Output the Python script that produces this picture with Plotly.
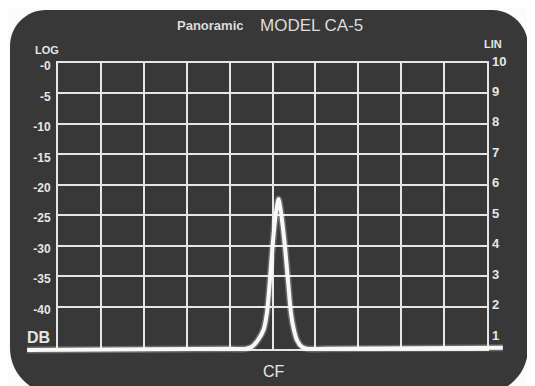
import plotly.graph_objects as go

# ---------------- data ----------------
# horizontal divisions of the screen (10 columns)
x_divisions = [0, 1, 2, 3, 4, 5, 6, 7, 8, 9, 10]
# left "LOG" scale labels and the LIN-scale level they sit on
log_labels = ["-0", "-5", "-10", "-15", "-20", "-25", "-30", "-35", "-40"]
log_levels = [10, 9, 8, 7, 6, 5, 4, 3, 2]
# right "LIN" scale
lin_labels = ["10", "9", "8", "7", "6", "5", "4", "3", "2", "1"]
lin_levels = [10, 9, 8, 7, 6, 5, 4, 3, 2, 1]
# displayed trace (x in divisions, y in LIN units)
trace_x = [-0.72, 4.00, 4.36, 4.52, 4.66, 4.79, 4.87, 4.94, 5.00, 5.08, 5.14,
           5.20, 5.29, 5.36, 5.43, 5.50, 5.57, 5.68, 5.83, 6.20, 10.37]
trace_y = [0.57, 0.61, 0.61, 0.68, 0.90, 1.23, 1.79, 2.87, 3.97, 5.07, 5.53,
           5.07, 3.97, 2.87, 1.79, 1.23, 0.90, 0.68, 0.61, 0.61, 0.65]

# ---------------- layout geometry (page pixels) ----------------
W, H = 535, 386
OFF = 8                     # page margin around the figure div
GX0, GX1 = 58, 487          # left / right edge of graticule
PY10, PY1 = 63, 337         # pixel rows of LIN 10 and LIN 1
PYBOT = 349                 # bottom of graticule (baseline)
ux = (GX1 - GX0) / 10.0
uy = (PY1 - PY10) / 9.0
ymin = 1 - (PYBOT - PY1) / uy

def px(x):
    return (x - OFF) / W

def py(y):
    return 1 - (y - OFF) / H

FG = "#e6e6e6"
BG = "#383838"

fig = go.Figure()

# invisible helper traces so the grid axes exist
fig.add_trace(go.Scatter(x=[0, 10], y=[ymin, 10], mode="markers",
                         marker=dict(opacity=0), xaxis="x", yaxis="y",
                         hoverinfo="skip", showlegend=False))
fig.add_trace(go.Scatter(x=[0, 10], y=[ymin, 10], mode="markers",
                         marker=dict(opacity=0), xaxis="x", yaxis="y2",
                         hoverinfo="skip", showlegend=False))
# glow + trace on the full-page axes
fig.add_trace(go.Scatter(x=trace_x, y=trace_y, mode="lines",
                         line=dict(color="rgba(255,255,255,0.25)", width=7,
                                   shape="spline", smoothing=0.7),
                         xaxis="x3", yaxis="y3", hoverinfo="skip",
                         showlegend=False))
fig.add_trace(go.Scatter(x=trace_x, y=trace_y, mode="lines",
                         line=dict(color="#f8f8f8", width=4,
                                   shape="spline", smoothing=0.7),
                         xaxis="x3", yaxis="y3", hoverinfo="skip",
                         showlegend=False))

# rounded screen frame
L, R, T, B = 10, 528, 10, 394
rt, rb = 36, 46
k = 0.5523
def P(x, y):
    return f"{px(x):.5f},{py(y):.5f}"
path = (
    f"M {P(L + rt, T)} L {P(R - rt, T)} "
    f"C {P(R - rt + k*rt, T)} {P(R, T + rt - k*rt)} {P(R, T + rt)} "
    f"L {P(R, B - rb)} "
    f"C {P(R, B - rb + k*rb)} {P(R - rb + k*rb, B)} {P(R - rb, B)} "
    f"L {P(L + rb, B)} "
    f"C {P(L + rb - k*rb, B)} {P(L, B - rb + k*rb)} {P(L, B - rb)} "
    f"L {P(L, T + rt)} "
    f"C {P(L, T + rt - k*rt)} {P(L + rt - k*rt, T)} {P(L + rt, T)} Z"
)
fig.add_shape(type="path", path=path, xref="paper", yref="paper",
              fillcolor=BG, line=dict(width=0), layer="below")

grid_dom_x = [px(GX0), px(GX1)]
grid_dom_y = [py(PYBOT), py(PY10)]

fig.update_layout(
    width=W, height=H,
    margin=dict(l=0, r=0, t=0, b=0, pad=0, autoexpand=False),
    paper_bgcolor="#fbfbfb",
    plot_bgcolor="rgba(0,0,0,0)",
    showlegend=False,
    xaxis=dict(domain=grid_dom_x, range=[0, 10], tickvals=x_divisions[1:-1],
               showticklabels=False, showgrid=True, gridcolor=FG, gridwidth=2,
               zeroline=False, showline=True, mirror=True, linecolor=FG,
               linewidth=2, ticks="", fixedrange=True, automargin=False),
    yaxis=dict(domain=grid_dom_y, range=[ymin, 10], tickvals=log_levels,
               ticktext=log_labels, showgrid=True, gridcolor=FG, gridwidth=2,
               zeroline=False, showline=True, mirror=True, linecolor=FG,
               linewidth=2, ticks="", ticklabelstandoff=3,
               ticklabelshift=3, automargin=False,
               tickfont=dict(family="Liberation Sans", size=12, color=FG,
                             weight="bold"),
               fixedrange=True),
    yaxis2=dict(overlaying="y", side="right", range=[ymin, 10],
                tickvals=lin_levels, ticktext=lin_labels, showgrid=False,
                zeroline=False, showline=False, ticks="",
                ticklabelstandoff=4, ticklabelshift=-2, automargin=False,
                tickfont=dict(family="Liberation Sans", size=13, color=FG,
                              weight="bold"),
                fixedrange=True),
    xaxis3=dict(domain=[0, 1],
                range=[(OFF - GX0) / ux, (OFF + W - GX0) / ux],
                visible=False, anchor="y3", fixedrange=True, automargin=False),
    yaxis3=dict(domain=[0, 1],
                range=[10 - (OFF + H - PY10) / uy, 10 + (PY10 - OFF) / uy],
                visible=False, anchor="x3", fixedrange=True, automargin=False),
)

ann = dict(xref="paper", yref="paper", showarrow=False)
fig.add_annotation(text="<b>Panoramic</b>", x=px(210), y=py(26),
                   xanchor="center", yanchor="middle",
                   font=dict(family="Liberation Sans", size=13, color="#dcdcdc"),
                   **ann)
fig.add_annotation(text="MODEL CA-5", x=px(311), y=py(26),
                   xanchor="center", yanchor="middle",
                   font=dict(family="Liberation Sans", size=17, color="#dcdcdc"),
                   **ann)
fig.add_annotation(text="<b>LOG</b>", x=px(47), y=py(50),
                   xanchor="center", yanchor="middle",
                   font=dict(family="Liberation Sans", size=11, color=FG),
                   **ann)
fig.add_annotation(text="<b>LIN</b>", x=px(493), y=py(44),
                   xanchor="center", yanchor="middle",
                   font=dict(family="Liberation Sans", size=11, color=FG),
                   **ann)
fig.add_annotation(text="<b>DB</b>", x=px(52), y=py(337),
                   xanchor="right", yanchor="middle",
                   font=dict(family="Liberation Sans", size=16, color=FG),
                   **ann)
fig.add_annotation(text="CF", x=px(274), y=py(371),
                   xanchor="center", yanchor="middle",
                   font=dict(family="Liberation Sans", size=16, color=FG),
                   **ann)

fig.write_html("out.html")
